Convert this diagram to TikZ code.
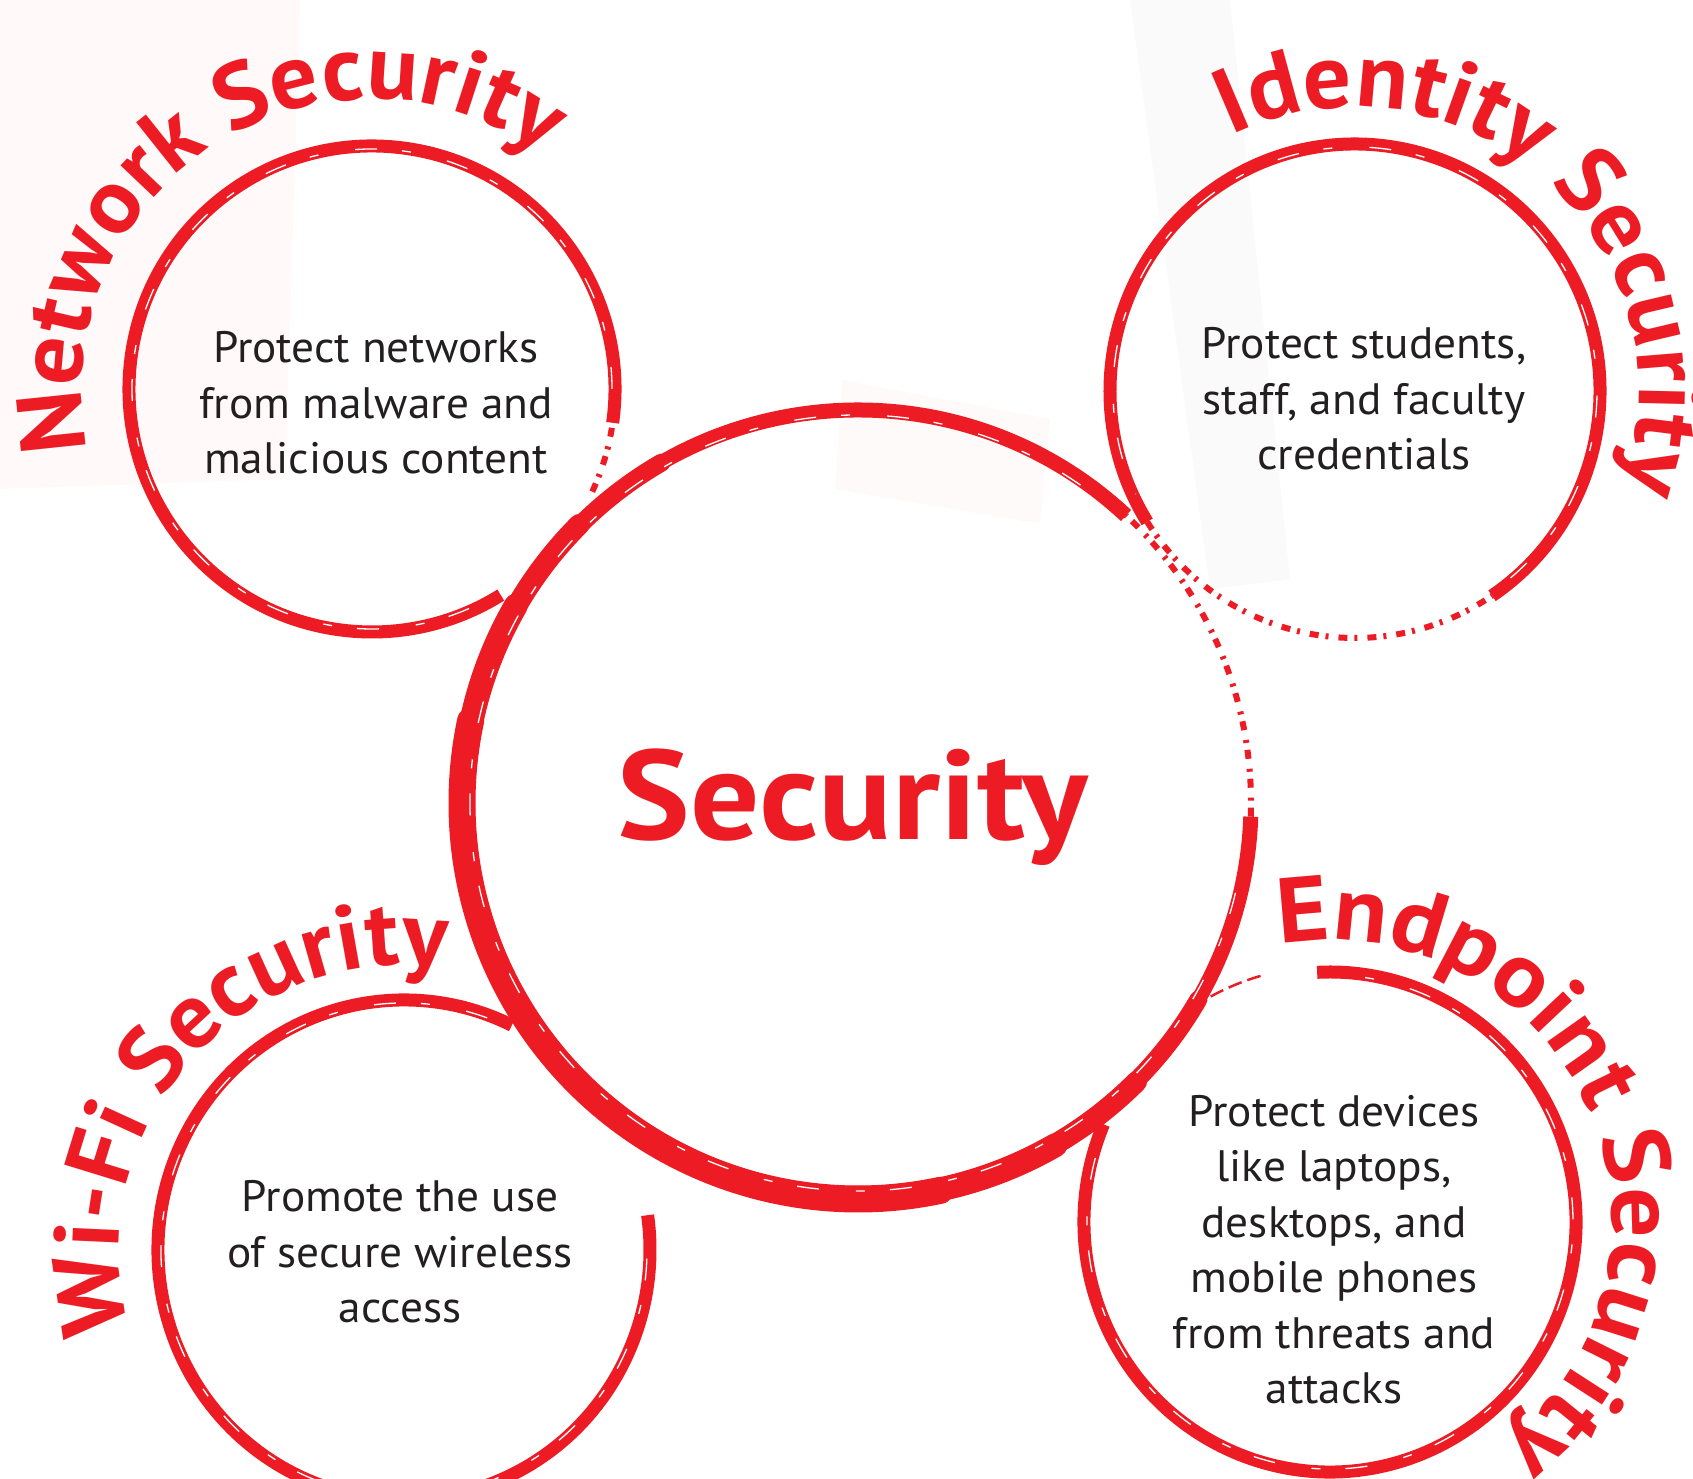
\documentclass[tikz,border=0pt]{standalone}
\usepackage{fontspec}
\setmainfont{PT Sans}[FakeStretch=1.03]
\newfontfamily\ringboldA{PT Sans}[FakeStretch=1.04]
\newfontfamily\ringboldB{PT Sans}[FakeStretch=1.08]
\usetikzlibrary{decorations.text}
\definecolor{secred}{HTML}{ED1C24}
\definecolor{bodyink}{HTML}{231F20}
\newcommand\ringtitlefont{\ringboldA\bfseries\fontsize{92}{92}\selectfont\color{secred}}
\newcommand\ringtitlefontwide{\ringboldB\bfseries\fontsize{92}{92}\selectfont\color{secred}}
\begin{document}
\begin{tikzpicture}[x=1pt,y=1pt,
  ring/.style={draw=secred, line width=13pt},
  ringfade/.style={draw=secred, line width=6pt, dash pattern=on 9pt off 7pt on 3pt off 10pt},
  streak/.style={draw=white, line width=1.3pt, dash pattern=on 22pt off 37pt on 9pt off 25pt},
  body/.style={text=bodyink, font=\fontsize{44}{55.5}\selectfont, align=center, anchor=base, inner sep=0pt},
  ringtitle/.style={decorate, decoration={text along path, text align=center, text={|\ringtitlefont|#1}}},
  ringtitlewide/.style={decorate, decoration={text along path, text align=center, text={|\ringtitlefontwide|#1}}}
  ]
\useasboundingbox (0,0) rectangle (1693,1479);
% faint background shapes
\fill[red!2.5] (0,1479) -- (300,1479) -- (285,1000) -- (0,990) -- cycle;
\fill[red!2] (842,1099) -- (1050,1060) -- (1040,955) -- (835,990) -- cycle;
\fill[black!2] (1130,1479) -- (1230,1479) -- (1290,900) -- (1210,890) -- cycle;
% centres
\coordinate (N) at (372,1090);
\coordinate (I) at (1355,1088);
\coordinate (M) at (858,676);
\coordinate (W) at (404,229);
\coordinate (E) at (1330,257);
% main circle
\draw[secred, line width=15pt, shift={(M)}] (47:393pt) arc[start angle=47, end angle=358, radius=393pt];
\draw[secred, line width=18pt, line cap=round, shift={(M)}] (120:393pt) arc[start angle=120, end angle=330, radius=393pt];
\draw[secred, line width=21pt, line cap=round, shift={(M)}] (135:394pt) arc[start angle=135, end angle=315, radius=394pt];
\draw[secred, line width=24pt, line cap=round, shift={(M)}] (150:395pt) arc[start angle=150, end angle=300, radius=395pt];
\draw[secred, line width=27pt, line cap=round, shift={(M)}] (168:396pt) arc[start angle=168, end angle=282, radius=396pt];
\draw[ringfade, shift={(M)}] (-2:393pt) arc[start angle=-2, end angle=47, radius=393pt];
\draw[streak, shift={(M)}] (55:388pt) arc[start angle=55, end angle=350, radius=388pt];
% network circle
\draw[ring, shift={(N)}] (-8:243pt) arc[start angle=-8, end angle=302, radius=243pt];
\draw[ringfade, shift={(N)}] (-25:243pt) arc[start angle=-25, end angle=-8, radius=243pt];
\draw[streak, shift={(N)}] (0:240pt) arc[start angle=0, end angle=295, radius=240pt];
% identity circle
\draw[ring, shift={(I)}] (-56:245pt and 247pt) arc[start angle=-56, end angle=212, x radius=245pt, y radius=247pt];
\draw[ringfade, shift={(I)}] (212:245pt and 247pt) arc[start angle=212, end angle=304, x radius=245pt, y radius=247pt];
\draw[streak, shift={(I)}] (-50:242pt and 244pt) arc[start angle=-50, end angle=205, x radius=242pt, y radius=244pt];
% wifi circle
\draw[ring, shift={(W)}] (64:246pt and 250pt) arc[start angle=64, end angle=368, x radius=246pt, y radius=250pt];
\draw[streak, shift={(W)}] (70:243pt and 247pt) arc[start angle=70, end angle=360, x radius=243pt, y radius=247pt];
% endpoint circle
\draw[ring, shift={(E)}] (157:246pt and 250pt) arc[start angle=157, end angle=453, x radius=246pt, y radius=250pt];
\draw[streak, shift={(E)}] (165:243pt and 247pt) arc[start angle=165, end angle=445, x radius=243pt, y radius=247pt];
\draw[secred, line width=2.5pt, dash pattern=on 14pt off 6pt, shift={(E)}] (106:252pt and 256pt) arc[start angle=106, end angle=122, x radius=252pt, y radius=256pt];
% curved titles
\path[ringtitle={Network Security}, shift={(N)}] (223:290pt) arc[start angle=223, end angle=23, radius=290pt];
\path[ringtitle={Identity Security}, shift={(I)}] (148:284pt) arc[start angle=148, end angle=-52, radius=284pt];
\path[ringtitle={Wi-Fi Security}, shift={(W)}] (239:285pt) arc[start angle=239, end angle=39, radius=285pt];
\path[ringtitlewide={Endpoint Security}, shift={(E)}] (124:282pt) arc[start angle=124, end angle=-76, radius=282pt];
% texts
\node[text=secred, font=\ringboldB\bfseries\fontsize{127}{127}\selectfont, anchor=base, inner sep=0pt] (sec) at (853,639) {Security};
\node[body] (tn) at (376,1005) {Protect networks\\from malware and\\malicious content};
\node[body] (ti) at (1364,1009) {Protect students,\\staff, and faculty\\credentials};
\node[body] (tw) at (400,156) {Promote the use\\of secure wireless\\access};
\node[body] (te) at (1334,75) {Protect devices\\like laptops,\\desktops, and\\mobile phones\\from threats and\\attacks};
\end{tikzpicture}
\end{document}
